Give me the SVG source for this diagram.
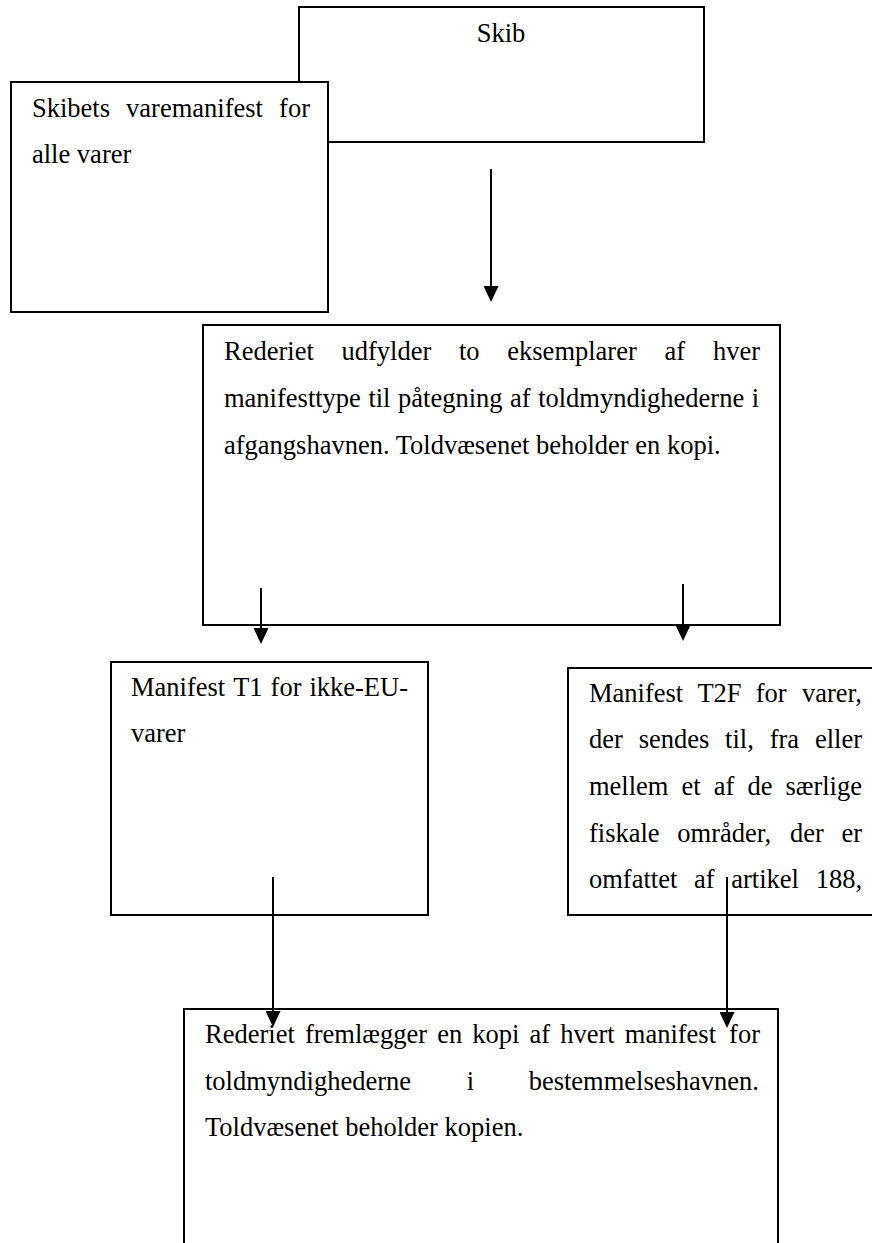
<svg xmlns="http://www.w3.org/2000/svg" width="872" height="1243" viewBox="0 0 872 1243">
  <style>
    .box { fill: #ffffff; stroke: #000000; stroke-width: 2; }
    .txt { font-family: "Liberation Serif", "Times New Roman", serif; font-size: 26.5px; fill: #000000; }
    .end { text-anchor: end; }
    .mid { text-anchor: middle; }
    .conn { stroke: #000000; stroke-width: 2; fill: none; marker-end: url(#arrow); }
  </style>
  <defs>
    <marker id="arrow" viewBox="0 0 16 15" markerWidth="16" markerHeight="15" refX="12" refY="7.5" orient="auto" markerUnits="userSpaceOnUse">
      <path d="M0,0 L16,7.5 L0,15 z" fill="#000000"/>
    </marker>
  </defs>

  <rect width="872" height="1243" fill="#ffffff"/>

  <!-- Ship -->
  <g id="skib">
    <rect class="box" x="299" y="7" width="405" height="135"/>
    <text class="txt mid" x="501" y="42">Skib</text>
  </g>

  <!-- Ship's cargo manifest (drawn over the ship box) -->
  <g id="varemanifest">
    <rect class="box" x="11" y="82" width="317" height="230"/>
    <text class="txt" y="117"><tspan x="32">Skibets</tspan><tspan x="126.1">varemanifest</tspan><tspan x="310" text-anchor="end">for</tspan></text>
    <text class="txt" x="32" y="163">alle varer</text>
  </g>

  <!-- Shipping company fills in the manifests -->
  <g id="rederiet-udfylder">
    <rect class="box" x="203" y="325" width="577" height="300"/>
    <text class="txt" y="360"><tspan x="224">Rederiet</tspan><tspan x="341.5">udfylder</tspan><tspan x="459">to</tspan><tspan x="507.3">eksemplarer</tspan><tspan x="664.5">af</tspan><tspan x="760" text-anchor="end">hver</tspan></text>
    <text class="txt" x="224" y="407" word-spacing="0.9">manifesttype til påtegning af toldmyndighederne i</text>
    <text class="txt" x="224" y="454">afgangshavnen. Toldvæsenet beholder en kopi.</text>
  </g>

  <!-- Manifest T1 -->
  <g id="manifest-t1">
    <rect class="box" x="111" y="662" width="317" height="253"/>
    <text class="txt" y="696"><tspan x="131">Manifest</tspan><tspan x="233.2">T1</tspan><tspan x="270.6">for</tspan><tspan x="408" text-anchor="end">ikke-EU-</tspan></text>
    <text class="txt" x="131" y="742">varer</text>
  </g>

  <!-- Manifest T2F -->
  <g id="manifest-t2f">
    <rect class="box" x="568" y="668" width="320" height="247"/>
    <text class="txt" y="702"><tspan x="589">Manifest</tspan><tspan x="697.4">T2F</tspan><tspan x="755.8">for</tspan><tspan x="862" text-anchor="end">varer,</tspan></text>
    <text class="txt" y="748"><tspan x="589">der</tspan><tspan x="638.7">sendes</tspan><tspan x="725.1">til,</tspan><tspan x="769.7">fra</tspan><tspan x="862" text-anchor="end">eller</tspan></text>
    <text class="txt" y="795"><tspan x="589">mellem</tspan><tspan x="681.6">et</tspan><tspan x="713.7">af</tspan><tspan x="747.4">de</tspan><tspan x="862" text-anchor="end">særlige</tspan></text>
    <text class="txt" y="842"><tspan x="589">fiskale</tspan><tspan x="677.3">områder,</tspan><tspan x="789.9">der</tspan><tspan x="862" text-anchor="end">er</tspan></text>
    <text class="txt" y="888"><tspan x="589">omfattet</tspan><tspan x="694">af</tspan><tspan x="731.2">artikel</tspan><tspan x="862" text-anchor="end">188,</tspan></text>
  </g>

  <!-- Shipping company presents the manifests at destination -->
  <g id="rederiet-fremlaegger">
    <rect class="box" x="184" y="1009" width="594" height="260"/>
    <text class="txt" y="1043"><tspan x="205">Rederiet</tspan><tspan x="304.9">fremlægger</tspan><tspan x="437.2">en</tspan><tspan x="472.3">kopi</tspan><tspan x="529.5">af</tspan><tspan x="560.2">hvert</tspan><tspan x="624.8">manifest</tspan><tspan x="760" text-anchor="end">for</tspan></text>
    <text class="txt" y="1090"><tspan x="205">toldmyndighederne</tspan><tspan x="466.7">i</tspan><tspan x="759" text-anchor="end">bestemmelseshavnen.</tspan></text>
    <text class="txt" x="205" y="1136">Toldvæsenet beholder kopien.</text>
  </g>

  <!-- Connectors -->
  <g id="connectors">
    <line class="conn" x1="491" y1="169" x2="491" y2="298"/>
    <line class="conn" x1="261" y1="588" x2="261" y2="640"/>
    <line class="conn" x1="683" y1="584" x2="683" y2="637"/>
    <line class="conn" x1="273" y1="877" x2="273" y2="1023"/>
    <line class="conn" x1="727" y1="877" x2="727" y2="1024"/>
  </g>
</svg>
